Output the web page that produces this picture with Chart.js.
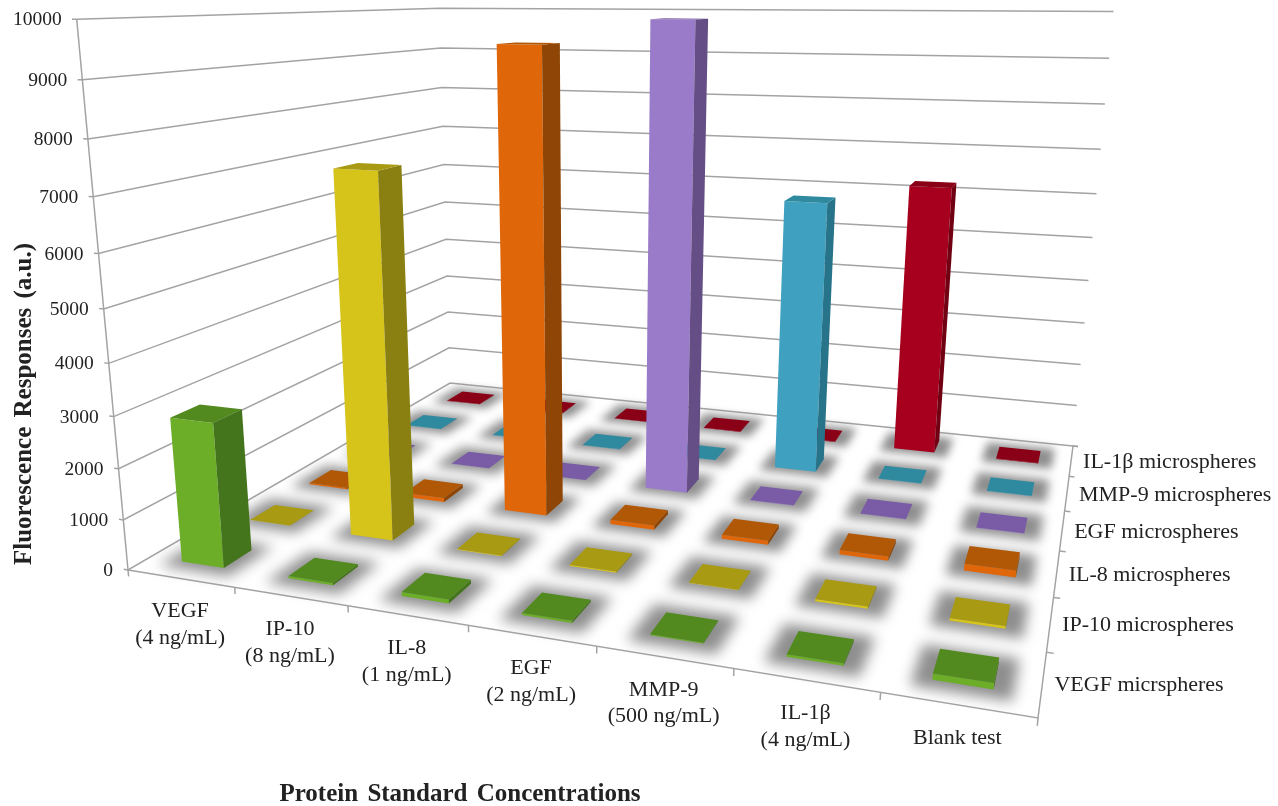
<!DOCTYPE html>
<html>
<head>
<meta charset="utf-8">
<title>Fluorescence responses</title>
<style>
  html, body { margin: 0; padding: 0; background: #fff; }
  canvas { display: block; }
</style>
<script src="https://cdn.jsdelivr.net/npm/chart.js@4/dist/chart.umd.min.js"></script>
</head>
<body>
<canvas id="chart" width="1278" height="806"></canvas>
<script>
const categories = [['VEGF', '(4 ng/mL)'], ['IP-10', '(8 ng/mL)'], ['IL-8', '(1 ng/mL)'], ['EGF', '(2 ng/mL)'],
  ['MMP-9', '(500 ng/mL)'], ['IL-1β', '(4 ng/mL)'], ['Blank test']];
const seriesNames = ['VEGF micrspheres', 'IP-10 microspheres', 'IL-8 microspheres', 'EGF microspheres',
  'MMP-9 microspheres', 'IL-1β microspheres'];
const valueTicks = [0, 1000, 2000, 3000, 4000, 5000, 6000, 7000, 8000, 9000, 10000];

const vegfValues = [2850, 45, 80, 40, 20, 45, 110];
const ip10Values = [5, 7270, 15, 25, 10, 45, 50];
const il8Values = [30, 90, 9470, 90, 85, 85, 140];
const egfValues = [10, 10, 10, 9900, 10, 10, 10];
const mmp9Values = [10, 10, 10, 10, 6060, 10, 10];
const il1bValues = [10, 10, 10, 10, 10, 6200, 10];
const rows = [vegfValues, ip10Values, il8Values, egfValues, mmp9Values, il1bValues];

const faceColors = [
  { front: '#6CAE28', side: '#44741C', top: '#528A20' },
  { front: '#D6C41A', side: '#8A8012', top: '#A89A12' },
  { front: '#E0660A', side: '#8E4505', top: '#B05806' },
  { front: '#9A7BC9', side: '#644E85', top: '#7A5CA6' },
  { front: '#3FA0BF', side: '#27738A', top: '#2F8AA0' },
  { front: '#A6001E', side: '#700012', top: '#8A0016' }
];
const gridColor = '#A3A3A3';
const textColor = '#222';
const maxValue = 10000;
const barSize = 0.4;

// floor corners and two wall tops set the camera for the 3D box
const floorCorners = [[128, 570], [1038, 718], [1073, 446], [450, 383]];
const topFrontLeft = [76.7, 19.3];
const topBackRight = [1113.5, 12];

function buildCamera() {
  const [[x0, y0], [x1, y1], [x2, y2], [x3, y3]] = floorCorners;
  const dx1 = x1 - x2, dx2 = x3 - x2, sx = x0 - x1 + x2 - x3;
  const dy1 = y1 - y2, dy2 = y3 - y2, sy = y0 - y1 + y2 - y3;
  const det = dx1 * dy2 - dx2 * dy1;
  const g = (sx * dy2 - dx2 * sy) / det;
  const h = (dx1 * sy - sx * dy1) / det;
  const a = x1 - x0 + g * x1, b = x3 - x0 + h * x3, c = x0;
  const d = y1 - y0 + g * y1, e = y3 - y0 + h * y3, f = y0;
  const T = g + h + 1, X = a + b + c;
  const r = (topBackRight[0] * T - X - topFrontLeft[0] + c) / (topFrontLeft[0] - topBackRight[0]);
  const p = topFrontLeft[0] * (1 + r) - c;
  const q = topFrontLeft[1] * (1 + r) - f;
  return { a, b, c, d, e, f, g, h, p, q, r };
}
const cam = buildCamera();

// u runs along the categories, w runs front to back, v is the value
function project(u, w, v) {
  const t = v / maxValue;
  const k = cam.g * u + cam.h * w + 1 + cam.r * t;
  return {
    x: (cam.a * u + cam.b * w + cam.c + cam.p * t) / k,
    y: (cam.d * u + cam.e * w + cam.f + cam.q * t) / k
  };
}

const datasets = [];
function addFace(points, color, blur) {
  datasets.push({ type: 'polyface', data: points, faceColor: color, blur: blur || 0, order: -datasets.length });
}
function addLine(points, width) {
  datasets.push({ type: 'polyface', data: points, lineColor: gridColor, lineWidth: width || 1.5, order: -datasets.length });
}

// walls
valueTicks.forEach(v => {
  addLine([project(-0.006, 0, v), project(0, 0, v), project(0, 1, v), project(1, 1, v)]);
});
addLine([project(0, 0, 0), project(0, 0, maxValue)]);
addLine([project(0, 0, 0), project(1, 0, 0), project(1, 1, 0), project(1.007, 1, 0)]);
for (let i = 0; i <= categories.length; i++) {
  addLine([project(i / categories.length, 0, 0), project(i / categories.length, 0, -130)]);
}
seriesNames.forEach((s, j) => {
  addLine([project(1, (j + 1) / seriesNames.length, 0), project(1.007, (j + 1) / seriesNames.length, 0)]);
});

// bars, far row first so nearer ones paint over
const nCat = categories.length, nRow = seriesNames.length;
for (let j = nRow - 1; j >= 0; j--) {
  rows[j].forEach((value, i) => {
    const u0 = (i + 0.5 - barSize / 2) / nCat, u1 = (i + 0.5 + barSize / 2) / nCat;
    const w0 = (j + 0.5 - barSize / 2) / nRow, w1 = (j + 0.5 + barSize / 2) / nRow;
    const du = 0.13 / nCat, dw = 0.13 / nRow;
    // soft floor shadow, tighter toward the back wall
    const blur = 7 - 3 * j / (nRow - 1);
    addFace([project(u0 - du, w0 - dw, 0), project(u1 + du, w0 - dw, 0), project(u1 + du, w1 + dw, 0), project(u0 - du, w1 + dw, 0)], '#8E8E8E', blur);
    addFace([project(u0, w0, 0), project(u1, w0, 0), project(u1, w0, value), project(u0, w0, value)], faceColors[j].front);
    addFace([project(u1, w0, 0), project(u1, w1, 0), project(u1, w1, value), project(u1, w0, value)], faceColors[j].side);
    addFace([project(u0, w0, value), project(u1, w0, value), project(u1, w1, value), project(u0, w1, value)], faceColors[j].top);
  });
}

// scatter controller that paints its points as one closed face or an open polyline
class PolyfaceController extends Chart.ScatterController {
  draw() {
    const ds = this.getDataset();
    const pts = this.getMeta().data;
    const ctx = this.chart.ctx;
    ctx.save();
    ctx.beginPath();
    pts.forEach((pt, n) => (n ? ctx.lineTo(pt.x, pt.y) : ctx.moveTo(pt.x, pt.y)));
    if (ds.faceColor) {
      if (ds.blur) ctx.filter = `blur(${ds.blur}px)`;
      ctx.closePath();
      ctx.fillStyle = ds.faceColor;
      ctx.fill();
    } else {
      ctx.strokeStyle = ds.lineColor;
      ctx.lineWidth = ds.lineWidth;
      ctx.stroke();
    }
    ctx.restore();
  }
}
PolyfaceController.id = 'polyface';
PolyfaceController.defaults = Chart.ScatterController.defaults;
Chart.register(PolyfaceController);

const axisText = {
  id: 'axisText',
  afterDatasetsDraw(chart) {
    const { ctx } = chart;
    ctx.save();
    ctx.fillStyle = textColor;
    ctx.textBaseline = 'middle';

    ctx.font = '19.5px "Liberation Serif"';
    ctx.textAlign = 'right';
    valueTicks.forEach(v => {
      const pt = project(0, 0, v);
      ctx.fillText(String(v), pt.x - 15, pt.y + 1);
    });

    ctx.font = '22px "Liberation Serif"';
    ctx.textAlign = 'center';
    categories.forEach((lines, i) => {
      const pt = project((i + 0.5) / nCat, 0, 0);
      lines.forEach((line, n) => ctx.fillText(line, pt.x - 0.5, pt.y + 33 + n * 26.5));
    });

    ctx.textAlign = 'left';
    seriesNames.forEach((name, j) => {
      const pt = project(1, (j + 0.5) / nRow, 0);
      ctx.fillText(name, pt.x + 12, pt.y + 2);
    });

    ctx.font = 'bold 25px "Liberation Serif"';
    ctx.textAlign = 'center';
    ctx.wordSpacing = '3px';
    ctx.fillText('Protein Standard Concentrations', 460, 795);
    ctx.translate(25, 404);
    ctx.rotate(-Math.PI / 2);
    ctx.fillText('Fluorescence Responses (a.u.)', 0, 0);
    ctx.restore();
  }
};

new Chart(document.getElementById('chart'), {
  data: { datasets },
  options: {
    responsive: false,
    animation: false,
    layout: { padding: 0, autoPadding: false },
    parsing: false,
    plugins: { legend: { display: false }, tooltip: { enabled: false } },
    scales: {
      x: { type: 'linear', min: 0, max: 1278, display: false },
      y: { type: 'linear', min: 0, max: 806, reverse: true, display: false }
    }
  },
  plugins: [axisText]
});
</script>
</body>
</html>
